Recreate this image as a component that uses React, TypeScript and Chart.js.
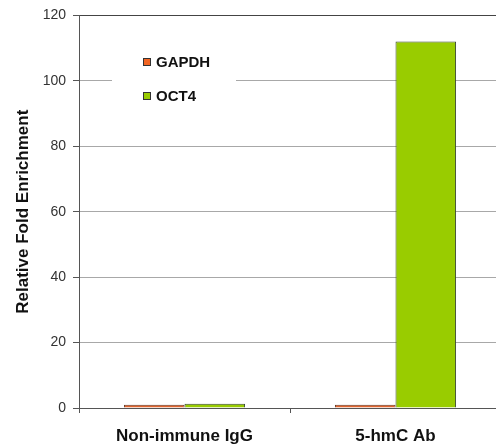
import React, { useEffect, useRef } from "react";
import { Chart, registerables } from "chart.js";

Chart.register(...registerables);

const categories = ["Non-immune IgG", "5-hmC Ab"];
const seriesNames = ["GAPDH", "OCT4"];
const gapdhValues = [1.0, 1.0];
const oct4Values = [1.3, 112];
const yTicks = [0, 20, 40, 60, 80, 100, 120];

const FONT = "'Liberation Sans', Arial, sans-serif";

const legendPlugin = {
  id: "boxLegend",
  afterDatasetsDraw(chart: any) {
    const ctx = chart.ctx;
    const ds = chart.data.datasets;
    ctx.save();
    ctx.fillStyle = "#ffffff";
    ctx.fillRect(112, 44, 124, 68);
    ds.forEach((d: any, i: number) => {
      const cy = 62 + i * 34;
      ctx.fillStyle = d.legendColor;
      ctx.fillRect(143, cy - 4, 8, 8);
      ctx.strokeStyle = "#333333";
      ctx.lineWidth = 1;
      ctx.strokeRect(143.5, cy - 3.5, 7, 7);
      ctx.fillStyle = "#111111";
      ctx.font = `bold 15px ${FONT}`;
      ctx.textBaseline = "middle";
      ctx.textAlign = "left";
      ctx.fillText(d.label, 156, cy + 0.5);
    });
    ctx.restore();
  },
};

export default function App() {
  const ref = useRef<HTMLCanvasElement>(null);
  useEffect(() => {
    const chart = new Chart(ref.current!, {
      type: "bar",
      data: {
        labels: categories,
        datasets: [
          {
            label: seriesNames[0],
            data: gapdhValues,
            backgroundColor: "#E0642F",
            borderColor: "#6b3a25",
            borderWidth: 1,
            legendColor: "#F26522",
          } as any,
          {
            label: seriesNames[1],
            data: oct4Values,
            backgroundColor: "#99CC00",
            borderColor: "#3a4a30",
            borderWidth: 1,
            legendColor: "#99CC00",
          } as any,
        ],
      },
      options: {
        responsive: false,
        animation: false,
        layout: { padding: { top: 15, right: 9, left: 0, bottom: 0 } },
        plugins: { legend: { display: false }, tooltip: { enabled: false } },
        datasets: { bar: { barPercentage: 1, categoryPercentage: 0.574 } },
        scales: {
          x: {
            grid: {
              offset: true,
              drawOnChartArea: false,
              drawTicks: true,
              tickLength: 5,
              color: "#555555",
            },
            border: { color: "#555555", width: 1 },
            ticks: {
              color: "#111111",
              font: { family: FONT, size: 17, weight: "bold" },
              padding: 13,
            },
            afterFit(scale: any) {
              scale.height = 37;
            },
          },
          y: {
            min: 0,
            max: 120,
            afterBuildTicks(scale: any) {
              scale.ticks = yTicks.map((v) => ({ value: v }));
            },
            grid: {
              color: (c: any) =>
                c.tick && c.tick.value === 120 ? "#444444" : "#a8a8a8",
              tickLength: 6,
              tickColor: "#555555",
            },
            border: { color: "#555555", width: 1 },
            ticks: {
              color: "#333333",
              font: { family: FONT, size: 14 },
              padding: 7,
            },
            title: {
              display: true,
              text: "Relative Fold Enrichment",
              color: "#111111",
              font: { family: FONT, size: 17, weight: "bold" },
              padding: { top: 13, bottom: 0 },
            },
            afterFit(scale: any) {
              scale.width = 79;
            },
          },
        },
      },
      plugins: [legendPlugin],
    });
    return () => chart.destroy();
  }, []);
  return (
    <div
      style={{
        position: "absolute",
        left: 0,
        top: 0,
        width: 496,
        height: 445,
        overflow: "hidden",
        background: "#fff",
      }}
    >
      <canvas ref={ref} width={510} height={445} style={{ display: "block" }} />
    </div>
  );
}
